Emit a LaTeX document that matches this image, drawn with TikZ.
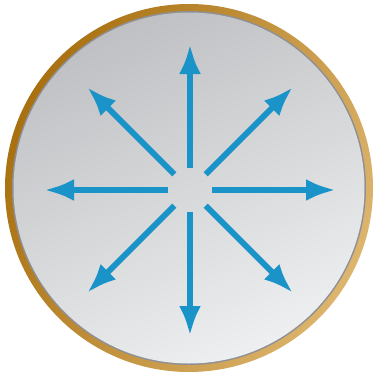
\documentclass[tikz,border=0pt]{standalone}
\usepackage{tikz}
\usetikzlibrary{positioning,arrows.meta}
\definecolor{rayblue}{HTML}{1A93C8}
\definecolor{rimdark}{HTML}{A8700F}
\definecolor{rimlight}{HTML}{DDB56E}
\definecolor{disclight}{HTML}{EEEFF0}
\definecolor{discdark}{HTML}{BFC0C3}
\definecolor{discedge}{HTML}{8E9096}

\begin{document}
\begin{tikzpicture}[
            x=1pt, y=-1pt,
            hub/.style={circle, minimum size=44pt, inner sep=0pt},
            ray/.style={rayblue, line width=6pt, -{Latex[length=30pt,width=22pt]}}
        ]
            \useasboundingbox (0,0) rectangle (376,378);
            % rim and disc
            \shade[shading=axis, left color=rimdark, right color=rimlight, shading angle=65]
                (189,188) circle (184);
            \fill[discedge] (189,188) circle (177);
            \shade[shading=axis, top color=discdark, bottom color=disclight, shading angle=25]
                (189,188) circle (175.5);
            % hub and tips
            \node[hub] (c) at (190,190) {};
            \coordinate (n) at (190,44);
            \coordinate (s) at (190,336);
            \coordinate (w) at (44,190);
            \coordinate (e) at (336,190);
            \coordinate (nw) at (87,87);
            \coordinate (ne) at (293,87);
            \coordinate (sw) at (87,293);
            \coordinate (se) at (293,293);
            \draw[ray] (c) -- (n);
            \draw[ray] (c) -- (s);
            \draw[ray] (c) -- (w);
            \draw[ray] (c) -- (e);
            \draw[ray] (c) -- (nw);
            \draw[ray] (c) -- (ne);
            \draw[ray] (c) -- (sw);
            \draw[ray] (c) -- (se);
        \end{tikzpicture}
\end{document}
